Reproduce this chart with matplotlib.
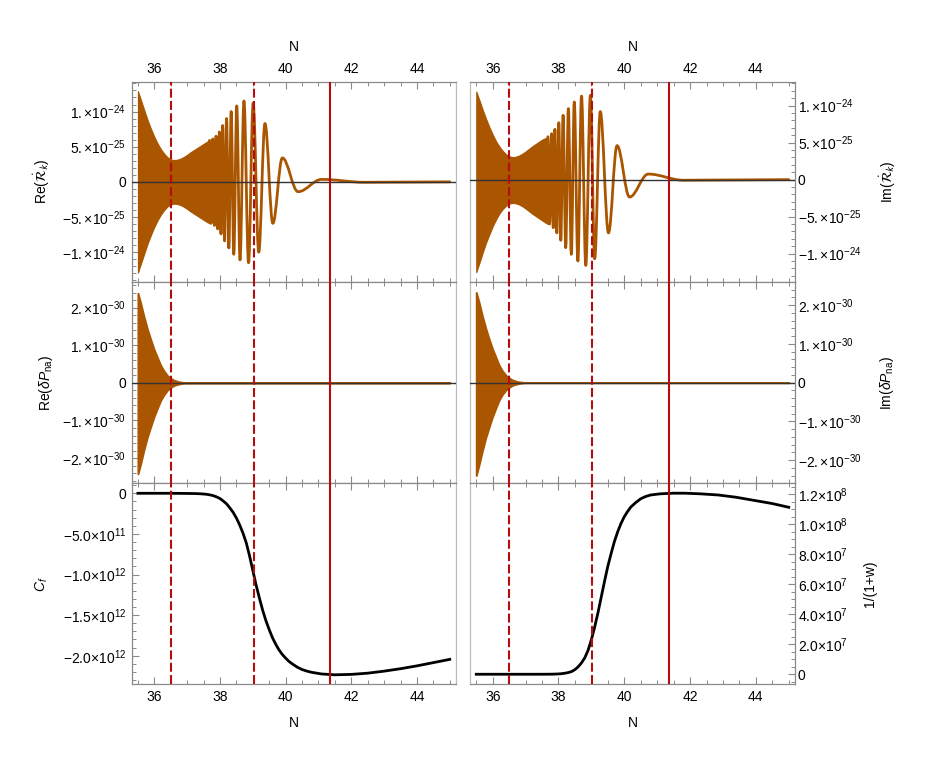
import numpy as np
import matplotlib
matplotlib.use("Agg")
import matplotlib.pyplot as plt
from matplotlib.path import Path
from matplotlib.patches import PathPatch
from matplotlib.ticker import MultipleLocator

plt.rcParams['font.family'] = ['Liberation Sans', 'DejaVu Sans']
plt.rcParams['mathtext.fontset'] = 'custom'
plt.rcParams['mathtext.rm'] = 'Liberation Sans'
plt.rcParams['mathtext.it'] = 'Liberation Sans:italic'
plt.rcParams['mathtext.bf'] = 'Liberation Sans:bold'
plt.rcParams['mathtext.sf'] = 'Liberation Sans'

# ---------------- data ----------------
X_LIM = (35.31, 45.19)
X_TICKS = [36, 38, 40, 42, 44]
V_DASHED = [36.5, 39.03]
V_SOLID = [41.36]

# Re(dR/dt): dense (unresolved) oscillation envelope, units 1e-24
re_R_env_N = [35.5, 35.6, 35.7, 35.8, 35.9, 36.0, 36.1, 36.2, 36.3, 36.4, 36.5, 36.6,
              36.7, 36.8, 36.9, 37.0, 37.1, 37.2, 37.3, 37.4, 37.5, 37.6, 37.68]
re_R_env_up = [1.29, 1.15, 1.01, 0.87, 0.75, 0.64, 0.545, 0.465, 0.40, 0.35, 0.32, 0.31,
               0.315, 0.33, 0.355, 0.385, 0.42, 0.45, 0.48, 0.51, 0.54, 0.57, 0.59]
re_R_env_lo = [-1.29, -1.15, -1.01, -0.87, -0.75, -0.64, -0.545, -0.465, -0.40, -0.35, -0.32, -0.31,
               -0.315, -0.33, -0.355, -0.385, -0.42, -0.45, -0.48, -0.51, -0.54, -0.57, -0.59]
# Re(dR/dt): resolved extrema, units 1e-24
re_R_ext_N = [37.68, 37.73, 37.78, 37.83, 37.88, 37.93, 37.98, 38.03, 38.08, 38.14, 38.20,
              38.27, 38.34, 38.42, 38.51, 38.61, 38.73, 38.87, 39.01, 39.18, 39.37, 39.61,
              39.90, 40.38, 41.10, 42.40, 45.0]
re_R_ext_v = [0.59, -0.59, 0.61, -0.62, 0.65, -0.67, 0.71, -0.74, 0.80, -0.84, 0.90,
              -0.94, 1.00, -1.03, 1.08, -1.11, 1.15, -1.15, 1.12, -1.00, 0.83, -0.59,
              0.34, -0.14, 0.035, -0.006, 0.0]

# Im(dR/dt)
im_R_env_N = re_R_env_N
im_R_env_up = [1.19, 1.07, 0.94, 0.82, 0.71, 0.61, 0.52, 0.45, 0.39, 0.345, 0.315, 0.305,
               0.31, 0.325, 0.35, 0.38, 0.415, 0.45, 0.48, 0.51, 0.54, 0.56, 0.58]
im_R_env_lo = [-1.25, -1.12, -0.98, -0.85, -0.74, -0.63, -0.54, -0.46, -0.40, -0.355, -0.325, -0.315,
               -0.32, -0.335, -0.36, -0.39, -0.425, -0.46, -0.49, -0.52, -0.55, -0.58, -0.60]
im_R_ext_N = [37.68, 37.73, 37.79, 37.84, 37.89, 37.95, 38.01, 38.07, 38.14, 38.22, 38.30,
              38.39, 38.48, 38.59, 38.70, 38.83, 38.97, 39.10, 39.27, 39.52, 39.78, 40.16,
              40.73, 41.80, 45.0]
im_R_ext_v = [0.58, -0.60, 0.62, -0.65, 0.68, -0.72, 0.77, -0.82, 0.87, -0.92, 0.96,
              -1.01, 1.05, -1.10, 1.13, -1.16, 1.14, -1.07, 0.92, -0.72, 0.46, -0.235,
              0.075, -0.008, 0.0]

# delta P_na envelopes, units 1e-30
re_P_N = [35.5, 35.58, 35.68, 35.79, 35.89, 35.99, 36.09, 36.19, 36.29, 36.4, 36.5,
          36.6, 36.7, 36.8, 36.9, 37.0, 45.0]
re_P_up = [2.38, 2.13, 1.77, 1.42, 1.15, 0.89, 0.68, 0.47, 0.32, 0.19, 0.12,
           0.07, 0.04, 0.02, 0.01, 0.0, 0.0]
re_P_lo = [-2.42, -2.16, -1.79, -1.43, -1.16, -0.90, -0.68, -0.47, -0.32, -0.19, -0.12,
           -0.07, -0.04, -0.02, -0.01, 0.0, 0.0]
im_P_N = re_P_N
im_P_up = [2.33, 2.09, 1.74, 1.40, 1.13, 0.88, 0.67, 0.46, 0.31, 0.19, 0.12,
           0.07, 0.04, 0.02, 0.01, 0.0, 0.0]
im_P_lo = [-2.40, -2.14, -1.78, -1.42, -1.15, -0.89, -0.67, -0.46, -0.31, -0.19, -0.12,
           -0.07, -0.04, -0.02, -0.01, 0.0, 0.0]

# C_f, units 1e12
cf_N = [35.5, 36.5, 37.0, 37.2, 37.4, 37.5, 37.6, 37.7, 37.8, 37.9, 38.0, 38.1, 38.2, 38.3,
        38.4, 38.5, 38.6, 38.7, 38.8, 38.9, 39.0, 39.1, 39.2, 39.3, 39.4, 39.5, 39.6, 39.7,
        39.8, 39.9, 40.0, 40.1, 40.2, 40.35, 40.5, 40.65, 40.8, 41.1, 41.5, 42.0, 42.5, 43.0,
        43.5, 44.0, 44.5, 45.0]
cf_v = [0.0, 0.0, -0.002, -0.003, -0.006, -0.009, -0.013, -0.02, -0.03, -0.045, -0.065,
        -0.095, -0.13, -0.18, -0.235, -0.305, -0.39, -0.49, -0.61, -0.77, -0.95, -1.13,
        -1.29, -1.44, -1.57, -1.68, -1.78, -1.86, -1.93, -1.985, -2.03, -2.07, -2.10, -2.14,
        -2.17, -2.19, -2.205, -2.225, -2.235, -2.23, -2.215, -2.19, -2.16, -2.125, -2.085,
        -2.045]

# 1/(1+w), units 1e7
w_N = [35.5, 37.5, 37.8, 38.0, 38.1, 38.2, 38.3, 38.4, 38.5, 38.6, 38.7, 38.8, 38.9, 39.0,
       39.1, 39.2, 39.3, 39.4, 39.5, 39.6, 39.7, 39.8, 39.9, 40.0, 40.1, 40.2, 40.35, 40.5,
       40.65, 40.8, 41.1, 41.5, 41.84, 42.3, 42.86, 43.4, 43.87, 44.5, 45.0]
w_v = [0.0, 0.0, 0.005, 0.02, 0.04, 0.07, 0.115, 0.18, 0.31, 0.50, 0.76, 1.10, 1.60, 2.30,
       3.15, 4.10, 5.15, 6.20, 7.20, 8.05, 8.85, 9.50, 10.05, 10.50, 10.85, 11.15, 11.45,
       11.70, 11.85, 11.95, 12.03, 12.07, 12.07, 12.03, 11.95, 11.80, 11.62, 11.38, 11.13]

RK_TICKS = [-1e-24, -5e-25, 0, 5e-25, 1e-24]
RK_LABELS = [r'$-1.{\times}10^{-24}$', r'$-5.{\times}10^{-25}$', '0',
             r'$5.{\times}10^{-25}$', r'$1.{\times}10^{-24}$']
DP_TICKS = [-2e-30, -1e-30, 0, 1e-30, 2e-30]
DP_LABELS = [r'$-2.{\times}10^{-30}$', r'$-1.{\times}10^{-30}$', '0',
             r'$1.{\times}10^{-30}$', r'$2.{\times}10^{-30}$']
CF_TICKS = [-2e12, -1.5e12, -1e12, -5e11, 0]
CF_LABELS = [r'$-2.0{\times}10^{12}$', r'$-1.5{\times}10^{12}$', r'$-1.0{\times}10^{12}$',
             r'$-5.0{\times}10^{11}$', '0']
W_TICKS = [0, 2e7, 4e7, 6e7, 8e7, 1e8, 1.2e8]
W_LABELS = ['0', r'$2.0{\times}10^{7}$', r'$4.0{\times}10^{7}$', r'$6.0{\times}10^{7}$',
            r'$8.0{\times}10^{7}$', r'$1.0{\times}10^{8}$', r'$1.2{\times}10^{8}$']

# ---------------- style ----------------
ORANGE = '#aa5500'
RED = '#b50d0d'
FRAME = '#8a8a8a'
FRAME_LIGHT = '#bdbdbd'
FS = 10
LFS = 10


def smooth_path(xs, ys, k=0.3642):
    verts = [(xs[0], ys[0])]
    codes = [Path.MOVETO]
    for i in range(len(xs) - 1):
        dx = xs[i + 1] - xs[i]
        verts += [(xs[i] + k * dx, ys[i]), (xs[i + 1] - k * dx, ys[i + 1]), (xs[i + 1], ys[i + 1])]
        codes += [Path.CURVE4] * 3
    return Path(verts, codes)


fig = plt.figure(figsize=(9.26, 7.66), dpi=100)
W, H = 926.0, 766.0
cols = [(131.7, 456.0), (470.0, 795.0)]
rows = [(82.0, 281.7), (282.0, 483.3), (483.3, 684.3)]
axes = [[None, None] for _ in range(3)]
for r, (yt, yb) in enumerate(rows):
    for c, (xl, xr) in enumerate(cols):
        axes[r][c] = fig.add_axes([xl / W, 1 - yb / H, (xr - xl) / W, (yb - yt) / H])


def style(ax, row, col):
    ax.set_xlim(*X_LIM)
    ax.set_xticks(X_TICKS)
    ax.xaxis.set_minor_locator(MultipleLocator(0.5))
    for s in ax.spines.values():
        s.set_color(FRAME)
        s.set_linewidth(0.9)
    if col == 0:
        ax.spines['right'].set_color(FRAME_LIGHT)
        ax.tick_params(axis='y', which='both', left=True, right=False, labelleft=True,
                       labelright=False, direction='in', colors=FRAME, labelcolor='black',
                       labelsize=FS, pad=4.0)
    else:
        ax.spines['left'].set_color(FRAME_LIGHT)
        ax.yaxis.set_label_position('right')
        ax.tick_params(axis='y', which='both', left=False, right=True, labelleft=False,
                       labelright=True, direction='in', colors=FRAME, labelcolor='black',
                       labelsize=FS, pad=2.0)
    ax.tick_params(axis='x', which='both', top=True, bottom=True, direction='in',
                   colors=FRAME, labelcolor='black', labelsize=FS,
                   labeltop=(row == 0), labelbottom=(row == 2), pad=4.0)
    ax.tick_params(which='major', length=5, width=0.8)
    ax.tick_params(which='minor', length=2.6, width=0.7)
    if row == 0:
        ax.xaxis.set_label_position('top')
        ax.set_xlabel('N', fontsize=LFS, labelpad=8)
    if row == 2:
        ax.set_xlabel('N', fontsize=LFS, labelpad=9)
    for xv in V_DASHED:
        ax.axvline(xv, color=RED, lw=1.5, dashes=(4.3, 1.6), zorder=5)
    for xv in V_SOLID:
        ax.axvline(xv, color=RED, lw=1.5, zorder=5)


def osc_panel(ax, envN, up, lo, extN, extV, scale):
    ax.fill_between(envN, np.array(up) * scale, np.array(lo) * scale, color=ORANGE,
                    lw=0.8, edgecolor=ORANGE, zorder=2)
    p = smooth_path(list(extN), list(np.array(extV) * scale))
    ax.add_patch(PathPatch(p, fill=False, edgecolor=ORANGE, lw=2.0, zorder=2,
                           capstyle='round', joinstyle='round'))
    ax.axhline(0, color='#333333', lw=1.0, zorder=3)


# Row 0
ax = axes[0][0]
osc_panel(ax, re_R_env_N, re_R_env_up, re_R_env_lo, re_R_ext_N, re_R_ext_v, 1e-24)
ax.set_ylim(-1.42e-24, 1.42e-24)
ax.set_yticks(RK_TICKS, RK_LABELS)
ax.yaxis.set_minor_locator(MultipleLocator(1e-25))
ax.set_ylabel(r'Re($\dot{\mathcal{R}}_k$)', fontsize=LFS, math_fontfamily='stixsans')

ax = axes[0][1]
osc_panel(ax, im_R_env_N, im_R_env_up, im_R_env_lo, im_R_ext_N, im_R_ext_v, 1e-24)
ax.set_ylim(-1.38e-24, 1.32e-24)
ax.set_yticks(RK_TICKS, RK_LABELS)
ax.yaxis.set_minor_locator(MultipleLocator(1e-25))
ax.set_ylabel(r'Im($\dot{\mathcal{R}}_k$)', fontsize=LFS, math_fontfamily='stixsans')

# Row 1
ax = axes[1][0]
ax.fill_between(re_P_N, np.array(re_P_up) * 1e-30, np.array(re_P_lo) * 1e-30, color=ORANGE,
                lw=1.4, edgecolor=ORANGE, zorder=2)
ax.axhline(0, color='#333333', lw=1.0, zorder=3)
ax.set_ylim(-2.67e-30, 2.68e-30)
ax.set_yticks(DP_TICKS, DP_LABELS)
ax.yaxis.set_minor_locator(MultipleLocator(2e-31))
ax.set_ylabel(r'Re($\delta P_{\mathrm{na}}$)', fontsize=LFS)

ax = axes[1][1]
ax.fill_between(im_P_N, np.array(im_P_up) * 1e-30, np.array(im_P_lo) * 1e-30, color=ORANGE,
                lw=1.4, edgecolor=ORANGE, zorder=2)
ax.axhline(0, color='#333333', lw=1.0, zorder=3)
ax.set_ylim(-2.6e-30, 2.6e-30)
ax.set_yticks(DP_TICKS, DP_LABELS)
ax.yaxis.set_minor_locator(MultipleLocator(2e-31))
ax.set_ylabel(r'Im($\delta P_{\mathrm{na}}$)', fontsize=LFS)

# Row 2
ax = axes[2][0]
ax.plot(cf_N, np.array(cf_v) * 1e12, color='black', lw=2.0, zorder=2, solid_joinstyle='round')
ax.set_ylim(-2.352e12, 0.123e12)
ax.set_yticks(CF_TICKS, CF_LABELS)
ax.yaxis.set_minor_locator(MultipleLocator(1e11))
ax.set_ylabel(r'$C_f$', fontsize=LFS)

ax = axes[2][1]
ax.plot(w_N, np.array(w_v) * 1e7, color='black', lw=2.0, zorder=2, solid_joinstyle='round')
ax.set_ylim(-0.67e7, 12.73e7)
ax.set_yticks(W_TICKS, W_LABELS)
ax.yaxis.set_minor_locator(MultipleLocator(5e6))
ax.set_ylabel('1/(1+w)', fontsize=LFS)

for r in range(3):
    for c in range(2):
        style(axes[r][c], r, c)

axes[0][0].yaxis.set_label_coords(-0.245, 0.5)
axes[1][0].yaxis.set_label_coords(-0.237, 0.5)
axes[2][0].yaxis.set_label_coords(-0.252, 0.5)
axes[0][1].yaxis.set_label_coords(1.255, 0.5)
axes[1][1].yaxis.set_label_coords(1.255, 0.5)
axes[2][1].yaxis.set_label_coords(1.209, 0.5)

fig.savefig('out.png', dpi=100)
